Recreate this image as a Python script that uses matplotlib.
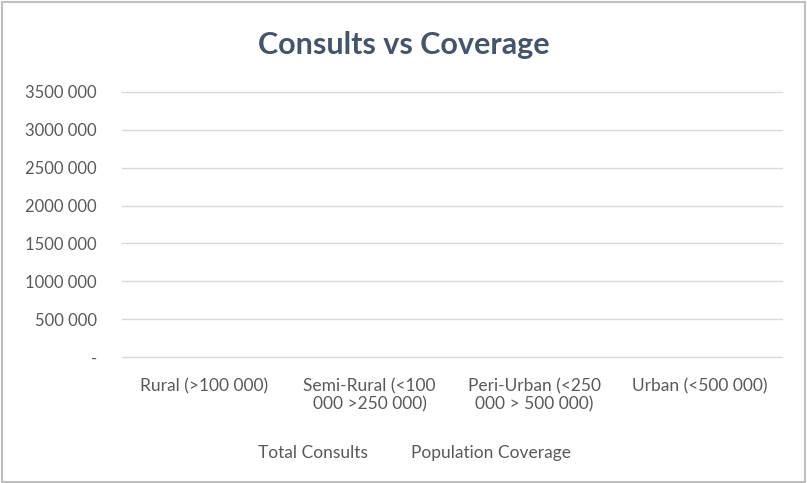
import matplotlib.pyplot as plt
import numpy as np
from matplotlib.patches import Patch

categories = ["Rural (>100 000)", "Semi-Rural (<100\n000 >250 000)",
              "Peri-Urban (<250\n000 > 500 000)", "Urban (<500 000)"]
total_consults = [0, 0, 0, 0]
population_coverage = [0, 0, 0, 0]
yticks = [0, 500000, 1000000, 1500000, 2000000, 2500000, 3000000, 3500000]
ytick_labels = ["-", "500 000", "1000 000", "1500 000", "2000 000",
                "2500 000", "3000 000", "3500 000"]

plt.rcParams['font.family'] = ['Lato', 'DejaVu Sans']
txt = '#595959'

fig = plt.figure(figsize=(8.07, 4.83), dpi=100)
ax = fig.add_axes([122/807, 1-357/483, 660/807, 265/483])

x = np.arange(len(categories))
w = 0.35
ax.bar(x - w/2, total_consults, w, color='#4472C4', label='Total Consults')
ax.bar(x + w/2, population_coverage, w, color='#ED7D31', label='Population Coverage')

ax.set_xlim(-0.5, 3.5)
ax.set_ylim(0, 3500000)
ax.set_yticks(yticks)
ax.set_yticklabels(ytick_labels, fontsize=12, color=txt)
ax.set_xticks(x)
ax.set_xticklabels(categories, fontsize=12.5, color=txt, linespacing=1.15)
ax.tick_params(length=0)
ax.tick_params(axis='y', pad=18)
ax.tick_params(axis='x', pad=15)
ax.grid(axis='y', color='#D9D9D9', linewidth=1)
for gl in ax.get_ygridlines():
    gl.set_clip_on(False)
ax.set_axisbelow(True)
for s in ax.spines.values():
    s.set_visible(False)

fig.text(0.5, 1-45/483, "Consults vs Coverage", ha='center', va='center',
         fontsize=22, fontweight='bold', color='#44546A')

handles = [Patch(facecolor='none', edgecolor='none', label='Total Consults'),
           Patch(facecolor='none', edgecolor='none', label='Population Coverage')]
leg = fig.legend(handles=handles, loc='center', bbox_to_anchor=(0.505, 1-453/483),
                 ncol=2, frameon=False, fontsize=12.5, handlelength=0.5,
                 columnspacing=1.7, handletextpad=0.3)
for t in leg.get_texts():
    t.set_color(txt)

fig.patches.append(plt.Rectangle((0.002, 0.002), 0.996, 0.994, transform=fig.transFigure,
                                 fill=False, edgecolor='#BFBFBF', linewidth=1.5))

fig.savefig('out.png', dpi=100)
